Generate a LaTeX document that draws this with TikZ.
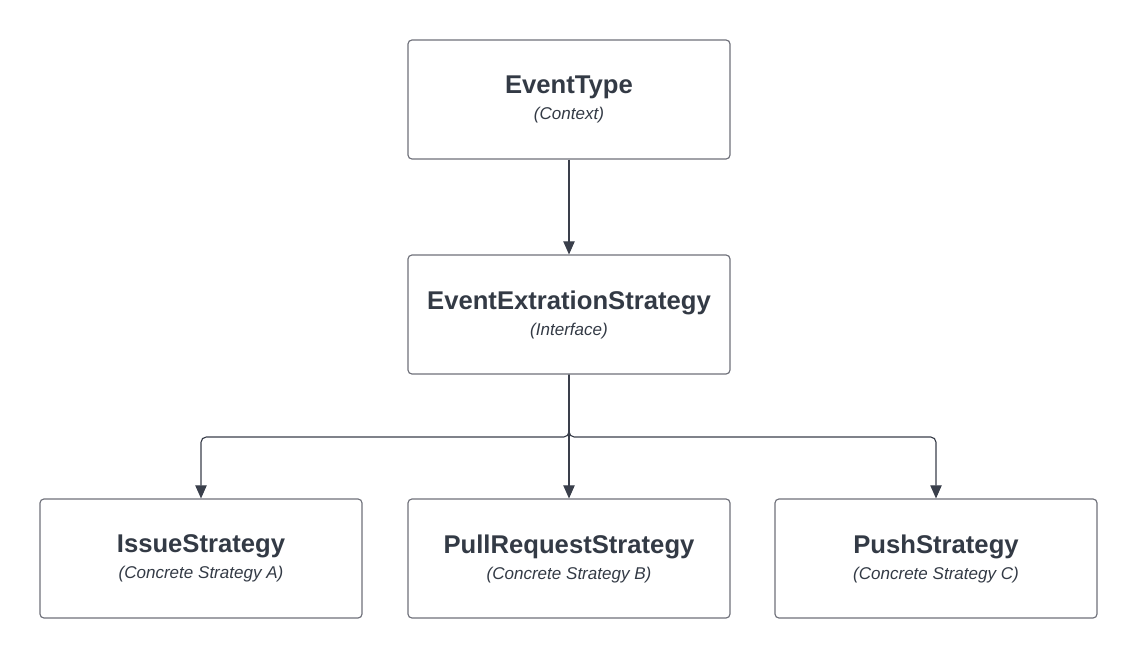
\documentclass[tikz,border=0pt]{standalone}
\usepackage{fontspec}
\setmainfont{Liberation Sans}
\usepackage{tikz}
\usetikzlibrary{arrows.meta}

\definecolor{boxgray}{HTML}{6E7079}
\definecolor{linedark}{HTML}{3A3F4B}
\definecolor{textdark}{HTML}{333A45}

\newcommand{\boxtitle}[2]{{\fontsize{14.6}{14.8}\selectfont\bfseries #1}\\\textit{(#2)}}

\begin{document}
\begin{tikzpicture}[x=0.02cm,y=-0.02cm,
    classbox/.style={draw=boxgray, line width=0.65pt, rounded corners=2.2pt,
        minimum width=6.44cm, minimum height=2.38cm, align=center,
        text=textdark, font=\fontsize{9.7}{14.8}\selectfont},
    link/.style={draw=linedark, line width=0.65pt,
        -{Triangle[length=7.5pt,width=6.5pt]}}]
    % Frame of the picture
    \useasboundingbox (0,0) rectangle (1138,660);

    % Context and interface
    \node[classbox] (context) at (569,99.5) {\boxtitle{EventType}{Context}};
    \node[classbox] (iface) at (569,314.5) {\boxtitle{EventExtrationStrategy}{Interface}};

    % Concrete strategies
    \node[classbox] (issue) at (201,558.5) {\boxtitle{IssueStrategy}{Concrete Strategy A}};
    \node[classbox] (pull) at (569,558.5) {\boxtitle{PullRequestStrategy}{Concrete Strategy B}};
    \node[classbox] (push) at (936,558.5) {\boxtitle{PushStrategy}{Concrete Strategy C}};

    % Connectors
    \draw[link] (context) -- (iface);
    \coordinate (split) at (569,437);
    \foreach \target in {issue,pull,push} {
        \draw[link, rounded corners=3pt] (iface.south) |- (split) -| (\target.north);
    }
\end{tikzpicture}
\end{document}
